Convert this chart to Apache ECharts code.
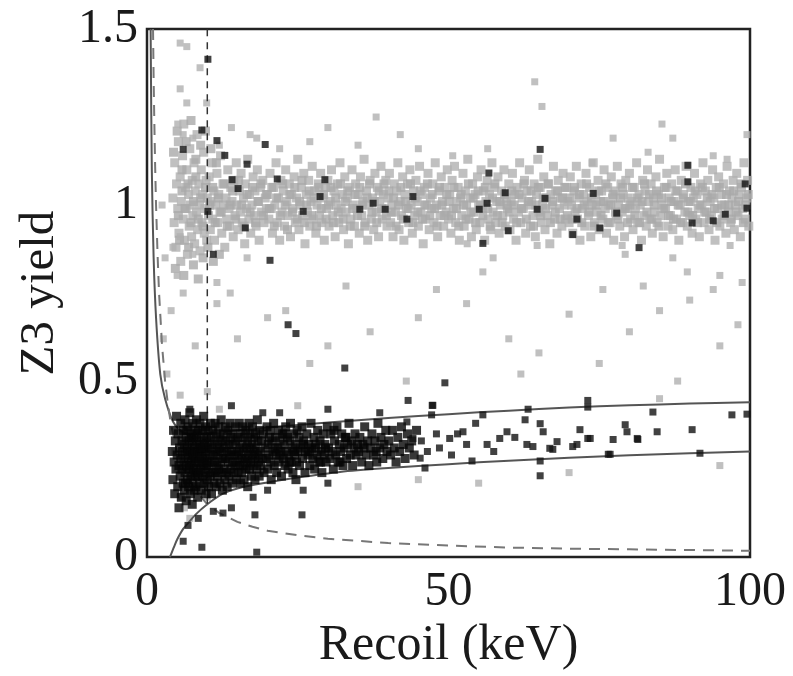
<!DOCTYPE html>
<html><head><meta charset="utf-8">
<script src="https://cdn.jsdelivr.net/npm/echarts@6/dist/echarts.min.js"></script>
<style>html,body{margin:0;padding:0;background:#fff}#c{width:793px;height:676px}</style>
</head><body><div id="c"></div>
<script>
// Axis ticks
const xTicks = [0, 50, 100];
const yTicks = [0, 0.5, 1, 1.5];

// Gray points: electron-recoil band (flat list of x,y pairs)
const erBand = [
4.3,1.02,4.5,0.95,4.6,1.12,4.8,0.88,4.9,1.06,5.1,0.99,5.2,1.18,5.3,0.92,5.5,1.08,5.6,0.84,5.7,1.01,5.9,1.14,6.0,0.96,6.1,1.23,6.2,0.9,6.4,1.05,6.5,0.99,6.6,1.1,6.7,0.86,6.9,1.03,7.0,0.94,7.1,1.16,7.2,1.0,7.4,0.91,7.5,1.07,7.6,0.97,7.8,1.12,7.9,0.89,8.0,1.04,8.2,0.98,8.3,1.2,8.4,0.93,8.6,1.06,8.7,1.0,8.8,0.87,9.0,1.1,9.1,0.95,9.2,1.03,9.4,1.15,9.5,0.92,9.6,0.99,9.8,1.07,9.9,0.9,10.0,1.02,
10.2,0.97,10.3,1.08,10.5,0.93,10.6,1.01,10.8,1.12,10.9,0.96,11.1,1.04,11.2,0.9,11.4,1.0,11.6,1.09,11.7,0.95,11.9,1.03,12.1,0.98,12.2,1.14,12.4,0.92,12.6,1.06,12.7,1.0,12.9,0.88,13.1,1.02,13.2,0.96,13.4,1.1,13.6,0.99,13.7,0.94,13.9,1.05,14.1,1.01,14.3,0.91,14.4,1.07,14.6,0.97,14.8,1.12,14.9,1.0,15.1,0.93,15.3,1.04,15.5,0.98,15.6,1.09,15.8,0.95,16.0,1.02,16.2,0.89,16.3,1.06,16.5,0.99,16.7,1.13,16.9,0.96,17.0,1.03,17.2,0.92,17.4,1.0,17.6,1.08,17.8,0.97,17.9,1.04,18.1,0.94,18.3,1.1,18.5,1.01,18.6,0.9,18.8,1.05,19.0,0.98,19.2,1.07,19.4,0.95,19.6,1.02,19.8,0.99,
20.0,1.03,20.2,0.96,20.4,1.09,20.6,0.99,20.8,0.92,21.0,1.05,21.2,1.0,21.4,1.12,21.6,0.95,21.8,1.02,22.0,0.9,22.2,1.07,22.4,0.98,22.6,1.04,22.8,0.94,23.0,1.1,23.2,1.01,23.4,0.97,23.6,1.06,23.8,0.91,24.0,1.03,24.2,0.99,24.4,1.08,24.6,0.95,24.8,1.02,25.0,1.13,25.2,0.93,25.4,1.0,25.6,1.05,25.8,0.97,26.0,1.09,26.2,0.89,26.4,1.03,26.6,0.98,26.8,1.07,27.0,0.94,27.2,1.01,27.4,1.11,27.6,0.96,27.8,1.04,28.0,0.92,28.2,1.0,28.4,1.06,28.6,0.97,28.8,1.09,29.0,0.95,29.2,1.02,29.4,0.9,29.6,1.05,29.8,0.99,
30.0,1.07,30.2,0.94,30.4,1.01,30.6,1.1,30.8,0.97,31.0,1.04,31.2,0.91,31.4,1.0,31.6,1.06,31.8,0.95,32.0,1.12,32.2,0.99,32.4,1.03,32.6,0.93,32.8,1.08,33.0,0.98,33.2,1.02,33.4,0.89,33.6,1.05,33.8,0.96,34.0,1.1,34.2,1.0,34.4,0.94,34.6,1.06,34.8,0.99,35.0,1.03,35.2,0.92,35.4,1.08,35.6,0.97,35.8,1.01,36.0,1.13,36.2,0.95,36.4,1.04,36.6,0.9,36.8,1.0,37.0,1.07,37.2,0.96,37.4,1.02,37.6,0.93,37.8,1.09,38.0,0.98,38.2,1.05,38.4,0.91,38.6,1.01,38.8,1.11,39.0,0.96,39.2,1.03,39.4,0.99,39.6,1.07,39.8,0.94,
40.0,1.02,40.2,1.09,40.4,0.95,40.6,1.0,40.8,0.91,41.0,1.06,41.2,0.98,41.4,1.04,41.6,1.12,41.8,0.93,42.0,1.01,42.2,0.97,42.4,1.08,42.6,0.9,42.8,1.03,43.0,0.99,43.2,1.06,43.4,0.95,43.6,1.1,43.8,1.0,44.0,0.92,44.2,1.04,44.4,0.97,44.6,1.07,44.8,1.01,45.0,0.94,45.2,1.11,45.4,0.98,45.6,1.03,45.8,0.89,46.0,1.05,46.2,0.96,46.4,1.0,46.6,1.09,46.8,0.93,47.0,1.02,47.2,0.99,47.4,1.06,47.6,0.95,47.8,1.12,48.0,1.0,48.2,0.91,48.4,1.04,48.6,0.97,48.8,1.08,49.0,1.01,49.2,0.94,49.4,1.05,49.6,0.98,49.8,1.1,
50.0,0.96,50.2,1.03,50.4,0.92,50.6,1.07,50.8,0.99,51.0,1.11,51.2,0.95,51.4,1.01,51.6,1.05,51.8,0.9,52.0,1.02,52.2,0.97,52.4,1.09,52.6,0.94,52.8,1.04,53.0,1.0,53.2,1.13,53.4,0.96,53.6,1.02,53.8,0.91,54.0,1.06,54.2,0.98,54.4,1.03,54.6,0.93,54.8,1.08,55.0,1.0,55.2,0.95,55.4,1.1,55.6,0.99,55.8,1.04,56.0,0.9,56.2,1.01,56.4,1.07,56.6,0.96,56.8,1.03,57.0,0.93,57.2,1.12,57.4,0.98,57.6,1.05,57.8,0.95,58.0,1.01,58.2,1.08,58.4,0.92,58.6,1.0,58.8,1.04,59.0,0.97,59.2,1.1,59.4,0.94,59.6,1.02,59.8,0.99,
60.0,1.06,60.2,0.93,60.4,1.01,60.6,1.09,60.8,0.96,61.0,1.03,61.2,0.9,61.4,1.05,61.6,0.98,61.8,1.12,62.0,0.95,62.2,1.02,62.4,0.99,62.6,1.07,62.8,0.92,63.0,1.04,63.2,1.0,63.4,1.1,63.6,0.94,63.8,1.01,64.0,0.97,64.2,1.06,64.4,0.91,64.6,1.03,64.8,1.13,65.0,0.98,65.2,1.05,65.4,0.95,65.6,1.0,65.8,1.08,66.0,0.93,66.2,1.02,66.4,0.97,66.6,1.06,66.8,0.89,67.0,1.03,67.2,1.0,67.4,1.11,67.6,0.96,67.8,1.04,68.0,0.92,68.2,1.07,68.4,0.99,68.6,1.02,68.8,0.94,69.0,1.09,69.2,1.0,69.4,0.96,69.6,1.05,69.8,1.01,
70.0,0.95,70.2,1.08,70.4,1.0,70.6,0.92,70.8,1.04,71.0,0.98,71.2,1.11,71.4,0.96,71.6,1.02,71.8,0.9,72.0,1.06,72.2,0.99,72.4,1.03,72.6,0.94,72.8,1.09,73.0,1.01,73.2,0.97,73.4,1.05,73.6,0.91,73.8,1.0,74.0,1.12,74.2,0.95,74.4,1.03,74.6,0.98,74.8,1.07,75.0,0.93,75.2,1.01,75.4,1.04,75.6,0.96,75.8,1.1,76.0,0.99,76.2,0.92,76.4,1.05,76.6,1.0,76.8,0.95,77.0,1.08,77.2,1.02,77.4,0.9,77.6,1.04,77.8,0.97,78.0,1.11,78.2,1.0,78.4,0.94,78.6,1.06,78.8,0.98,79.0,1.03,79.2,0.91,79.4,1.07,79.6,0.99,79.8,1.02,
80.0,1.09,80.2,0.96,80.4,1.01,80.6,0.93,80.8,1.05,81.0,0.99,81.2,1.12,81.4,0.95,81.6,1.03,81.8,1.0,82.0,0.9,82.2,1.07,82.4,0.97,82.6,1.04,82.8,0.94,83.0,1.1,83.2,1.01,83.4,0.96,83.6,1.06,83.8,0.92,84.0,1.02,84.2,0.98,84.4,1.08,84.6,0.95,84.8,1.03,85.0,1.13,85.2,0.97,85.4,1.0,85.6,0.91,85.8,1.05,86.0,0.99,86.2,1.09,86.4,0.94,86.6,1.02,86.8,0.97,87.0,1.06,87.2,0.93,87.4,1.01,87.6,1.1,87.8,0.96,88.0,1.04,88.2,0.9,88.4,1.0,88.6,1.07,88.8,0.95,89.0,1.03,89.2,0.98,89.4,1.11,89.6,0.94,89.8,1.01,
90.0,0.97,90.2,1.05,90.4,0.92,90.6,1.02,90.8,1.09,91.0,0.96,91.2,1.03,91.4,0.99,91.6,0.91,91.8,1.06,92.0,1.0,92.2,1.12,92.4,0.95,92.6,1.04,92.8,0.98,93.0,1.07,93.2,0.93,93.4,1.01,93.6,0.97,93.8,1.1,94.0,1.02,94.2,0.9,94.4,1.05,94.6,0.99,94.8,1.08,95.0,0.94,95.2,1.03,95.4,0.96,95.6,1.06,95.8,1.0,96.0,0.92,96.2,1.11,96.4,0.98,96.6,1.04,96.8,0.95,97.0,1.02,97.2,1.07,97.4,0.93,97.6,1.0,97.8,1.09,98.0,0.97,98.2,1.03,98.4,0.91,98.6,1.05,98.8,0.99,99.0,1.12,99.2,0.96,99.4,1.02,99.6,1.07,99.8,0.94
];

// Gray points: densest middle of the electron-recoil band
const erCore = [
4.4,1.15,4.7,0.82,5.0,1.21,5.4,0.9,5.8,1.1,6.1,0.8,6.5,1.18,6.9,0.88,7.3,1.24,7.7,0.83,8.1,1.13,8.5,0.79,8.9,1.17,9.3,0.85,9.7,1.21,10.1,0.88,10.6,1.16,11.0,0.84,11.5,1.12,12.0,0.86,
5.2,0.97,5.8,1.04,6.3,0.99,6.8,1.06,7.3,0.95,7.7,1.01,8.1,1.08,8.5,0.96,8.9,1.02,9.3,0.94,9.7,1.05,
10.4,1.0,10.9,1.05,11.3,0.95,11.8,1.02,12.3,0.98,12.8,1.06,13.3,0.94,13.8,1.0,14.2,1.04,14.7,0.96,15.2,1.07,15.7,1.0,16.1,0.94,16.6,1.03,17.1,0.98,17.5,1.05,18.0,0.95,18.4,1.01,18.9,1.06,19.3,0.97,19.8,1.03,
20.3,0.99,20.7,1.05,21.1,0.94,21.5,1.02,22.1,0.97,22.5,1.06,22.9,1.0,23.3,0.93,23.7,1.03,24.1,0.98,24.5,1.05,24.9,0.96,25.3,1.01,25.7,1.07,26.1,0.95,26.5,1.0,26.9,1.04,27.3,0.97,27.7,1.02,28.1,0.94,28.5,1.05,28.9,0.99,29.3,1.03,29.7,0.96,
30.1,1.0,30.5,1.05,30.9,0.95,31.3,1.02,31.7,0.98,32.1,1.06,32.5,0.96,32.9,1.01,33.3,1.04,33.7,0.94,34.1,0.99,34.5,1.03,34.9,0.97,35.3,1.05,35.7,1.0,36.1,0.94,36.5,1.02,36.9,1.06,37.3,0.98,37.7,1.01,38.1,0.95,38.5,1.04,38.9,0.99,39.3,1.06,39.7,0.97,
40.1,1.04,40.5,0.98,40.9,1.02,41.3,0.94,41.7,1.0,42.1,1.05,42.5,0.96,42.9,1.01,43.3,0.99,43.7,1.06,44.1,0.95,44.5,1.02,44.9,0.98,45.3,1.04,45.7,0.96,46.1,1.0,46.5,1.06,46.9,0.97,47.3,1.03,47.7,0.99,48.1,0.94,48.5,1.05,48.9,1.0,49.3,0.97,49.7,1.03,
50.1,1.01,50.5,0.97,50.9,1.05,51.3,0.99,51.7,0.94,52.1,1.03,52.5,1.0,52.9,0.96,53.3,1.06,53.7,0.98,54.1,1.02,54.5,0.95,54.9,1.04,55.3,1.0,55.7,0.97,56.1,1.05,56.5,0.99,56.9,0.94,57.3,1.02,57.7,1.06,58.1,0.97,58.5,1.01,58.9,0.95,59.3,1.03,59.7,1.0,
60.1,0.98,60.5,1.04,60.9,1.0,61.3,0.95,61.7,1.03,62.1,0.99,62.5,1.06,62.9,0.96,63.3,1.01,63.7,1.04,64.1,0.94,64.5,1.0,64.9,1.05,65.3,0.97,65.7,1.02,66.1,0.99,66.5,1.06,66.9,0.95,67.3,1.01,67.7,0.98,68.1,1.04,68.5,0.96,68.9,1.02,69.3,1.05,69.7,0.97,
70.1,1.02,70.5,0.96,70.9,1.05,71.3,0.99,71.7,1.03,72.1,0.95,72.5,1.0,72.9,1.06,73.3,0.98,73.7,1.02,74.1,0.94,74.5,1.0,74.9,1.04,75.3,0.97,75.7,1.01,76.1,1.06,76.5,0.95,76.9,1.0,77.3,1.03,77.7,0.98,78.1,0.96,78.5,1.02,78.9,1.05,79.3,0.99,79.7,0.95,
80.1,1.0,80.5,1.05,80.9,0.97,81.3,1.02,81.7,0.95,82.1,1.01,82.5,1.06,82.9,0.98,83.3,1.03,83.7,0.96,84.1,1.0,84.5,1.04,84.9,0.94,85.3,1.02,85.7,0.99,86.1,1.05,86.5,0.97,86.9,1.01,87.3,0.96,87.7,1.04,88.1,1.0,88.5,0.95,88.9,1.02,89.3,1.06,89.7,0.98,
90.1,1.01,90.5,0.97,90.9,1.04,91.3,0.95,91.7,1.0,92.1,1.05,92.5,0.98,92.9,1.02,93.3,0.96,93.7,1.03,94.1,0.99,94.5,0.95,94.9,1.05,95.3,1.0,95.7,0.97,96.1,1.03,96.5,1.0,96.9,0.96,97.3,1.04,97.7,0.98,98.1,1.01,98.5,1.06,98.9,0.95,99.3,1.0,99.7,1.03
];

// Gray points outside the main band
const erScatter = [
5.5,1.46,6.6,1.45,8.8,1.39,5.5,1.33,9.9,1.29,6.6,1.29,5.1,1.23,6.0,1.2,7.6,1.19,17.1,1.2,18.2,1.19,64.3,1.35,65.5,1.28,85.4,1.23,77.3,1.19,87.2,1.19,99.5,1.2,56.5,1.16,50.7,1.14,83.1,1.15,73.8,1.12,96.2,1.13,93.9,1.14,27,1.18,30,1.22,35,1.17,42,1.2,45,1.16,12,1.17,14,1.22,22,1.16,38,1.25,
55.7,0.81,78.8,0.885,79.3,0.86,87.2,0.85,89.6,0.81,95,0.8,96.7,0.885,98.7,0.78,82.3,0.77,93.9,0.76,75.6,0.76,53.1,0.89,64.7,0.885,57.4,0.85,5.5,0.91,4.3,0.88,7.6,0.86,5.0,0.8,6.0,0.75,11.6,0.78,13.8,0.75,16.6,0.85,11.6,0.72,2.7,0.62,3.3,0.52,
20,0.68,23,0.7,30,0.6,37,0.64,43,0.5,48,0.76,53,0.72,60,0.62,65,0.58,70,0.69,75,0.55,80,0.64,85,0.7,90,0.73,95,0.6,98,0.66,62,0.52,88,0.5,33,0.77,27,0.55,45,0.68,15,0.62,8,0.6,4,0.7,3,0.85,2.5,1.0,
7.1,0.23,5.5,0.17,7.1,0.11,8.3,0.19,10,0.17,5.5,0.46,10,0.47,4.6,0.3,5.0,0.25,6.2,0.14,12,0.42,25,0.43,35,0.2,45,0.22,55,0.21,70,0.24,85,0.45,95,0.26
];

// Black points: nuclear-recoil band, dense part
const nrCore = [
4.2,0.3,4.3,0.22,4.4,0.36,4.5,0.27,4.6,0.18,4.7,0.33,4.8,0.25,4.9,0.4,5.0,0.29,5.1,0.2,5.2,0.35,5.3,0.14,5.3,0.26,5.4,0.31,5.5,0.23,5.6,0.38,5.6,0.28,5.7,0.17,5.8,0.33,5.8,0.25,5.9,0.3,6.0,0.21,6.0,0.36,6.1,0.27,6.2,0.32,
6.2,0.19,6.3,0.24,6.3,0.39,6.4,0.29,6.5,0.34,6.5,0.16,6.6,0.26,6.7,0.31,6.7,0.22,6.8,0.37,6.9,0.28,6.9,0.2,7.0,0.33,7.0,0.25,7.1,0.41,7.2,0.3,7.2,0.18,7.3,0.35,7.3,0.23,7.4,0.27,7.5,0.32,7.5,0.15,7.6,0.38,7.6,0.21,7.7,0.29,7.7,0.25,7.8,0.34,7.8,0.19,7.9,0.31,7.9,0.27,8.0,0.23,8.0,0.36,6.4,0.21,6.6,0.36,6.8,0.3,7.1,0.26,7.4,0.34,7.6,0.29,7.8,0.24,8.0,0.3,
8.1,0.28,8.1,0.2,8.2,0.33,8.2,0.39,8.3,0.25,8.4,0.3,8.4,0.17,8.5,0.36,8.5,0.23,8.6,0.27,8.7,0.32,8.7,0.21,8.8,0.29,8.8,0.38,8.9,0.25,9.0,0.34,9.0,0.19,9.1,0.3,9.1,0.27,9.2,0.23,9.3,0.36,9.3,0.31,9.4,0.26,9.4,0.4,9.5,0.21,9.5,0.33,9.6,0.28,9.7,0.24,9.7,0.37,9.8,0.3,9.8,0.18,9.9,0.34,9.9,0.26,10.0,0.22,10.0,0.31,8.3,0.35,8.6,0.24,8.9,0.31,9.2,0.28,9.6,0.32,
10.1,0.27,10.1,0.36,10.2,0.2,10.3,0.32,10.3,0.25,10.4,0.29,10.5,0.38,10.5,0.23,10.6,0.34,10.7,0.27,10.7,0.18,10.8,0.31,10.9,0.24,10.9,0.36,11.0,0.29,11.1,0.21,11.1,0.33,11.2,0.27,11.3,0.38,11.3,0.24,11.4,0.3,11.5,0.2,11.5,0.35,11.6,0.26,11.7,0.32,11.7,0.23,11.8,0.29,11.9,0.37,11.9,0.25,12.0,0.31,12.1,0.21,12.1,0.34,12.2,0.27,12.3,0.3,12.3,0.39,12.4,0.24,12.5,0.33,12.5,0.19,12.6,0.28,12.7,0.35,12.8,0.25,12.8,0.31,12.9,0.22,13.0,0.37,13.0,0.28,13.1,0.33,13.2,0.24,13.3,0.3,13.3,0.2,13.4,0.36,13.5,0.27,13.6,0.32,13.6,0.23,13.7,0.29,13.8,0.38,13.9,0.25,13.9,0.34,14.0,0.3,14.1,0.21,14.2,0.27,14.2,0.35,14.3,0.32,14.4,0.24,14.5,0.29,14.6,0.37,14.6,0.26,14.7,0.33,14.8,0.22,14.9,0.3,15.0,0.27,
15.1,0.34,15.1,0.24,15.2,0.29,15.3,0.38,15.4,0.26,15.4,0.31,15.5,0.21,15.6,0.35,15.7,0.28,15.7,0.24,15.8,0.32,15.9,0.37,16.0,0.26,16.0,0.3,16.1,0.22,16.2,0.34,16.3,0.28,16.4,0.25,16.4,0.36,16.5,0.31,16.6,0.27,16.7,0.2,16.7,0.33,16.8,0.29,16.9,0.38,17.0,0.25,17.1,0.31,17.1,0.35,17.2,0.27,17.3,0.23,17.4,0.32,17.5,0.29,17.5,0.37,17.6,0.26,17.7,0.34,17.8,0.3,17.9,0.22,17.9,0.28,18.0,0.35,18.1,0.31,18.2,0.25,18.3,0.39,18.4,0.29,18.4,0.33,18.5,0.27,18.6,0.23,18.7,0.36,18.8,0.3,18.9,0.26,19.0,0.33,19.1,0.28,19.3,0.35,19.4,0.24,19.6,0.31,19.8,0.28,19.9,0.37,
20.0,0.25,20.1,0.32,20.2,0.29,20.4,0.36,20.5,0.27,20.6,0.22,20.7,0.33,20.9,0.3,21.0,0.38,21.1,0.26,21.3,0.34,21.4,0.29,21.5,0.24,21.7,0.31,21.8,0.36,21.9,0.27,22.1,0.33,22.2,0.3,22.3,0.23,22.5,0.35,22.6,0.28,22.7,0.32,22.9,0.26,23.0,0.37,23.1,0.3,23.3,0.34,23.4,0.25,23.5,0.29,23.7,0.33,23.8,0.38,23.9,0.27,24.1,0.31,24.2,0.24,24.3,0.35,24.5,0.29,24.6,0.32,24.8,0.27,24.9,0.36,20.3,0.34,21.2,0.31,22.0,0.29,22.8,0.35,23.6,0.27,24.4,0.3,24.7,0.22,
25.0,0.3,25.2,0.34,25.3,0.26,25.5,0.31,25.7,0.37,25.8,0.28,26.0,0.33,26.2,0.24,26.3,0.3,26.5,0.35,26.7,0.29,26.8,0.32,27.0,0.26,27.2,0.38,27.3,0.31,27.5,0.28,27.7,0.34,27.8,0.25,28.0,0.32,28.2,0.29,28.3,0.36,28.5,0.27,28.7,0.33,28.9,0.3,29.0,0.24,29.2,0.35,29.4,0.29,29.5,0.32,29.7,0.27,29.9,0.37,25.9,0.32,26.9,0.3,27.9,0.31,28.8,0.27,29.6,0.31,
30.1,0.31,30.3,0.28,30.5,0.35,30.7,0.3,30.9,0.25,31.1,0.33,31.3,0.29,31.5,0.37,31.7,0.27,31.9,0.32,32.1,0.3,32.3,0.35,32.5,0.26,32.7,0.31,32.9,0.34,33.1,0.28,33.3,0.32,33.5,0.38,33.7,0.29,33.9,0.33,34.1,0.26,34.3,0.31,34.5,0.35,34.7,0.29,34.9,0.32,31.0,0.36,32.0,0.27,33.0,0.34,
35.1,0.3,35.3,0.34,35.6,0.27,35.8,0.32,36.1,0.37,36.3,0.29,36.6,0.33,36.8,0.26,37.1,0.31,37.3,0.35,37.6,0.29,37.8,0.33,38.1,0.27,38.3,0.38,38.6,0.31,38.8,0.34,39.1,0.28,39.3,0.32,39.6,0.36,39.8,0.3,36.0,0.31,38.0,0.3,
40.1,0.33,40.4,0.29,40.7,0.36,41.0,0.31,41.3,0.27,41.6,0.34,41.9,0.3,42.2,0.37,42.5,0.32,42.8,0.28,43.2,0.35,43.5,0.31,43.9,0.33,44.3,0.29,44.7,0.36
];

// Black points: sparse part of the nuclear-recoil band and outliers
const nrSparse = [
73.1,0.445,73.1,0.426,83.9,0.412,84.6,0.356,79.3,0.376,81.4,0.334,77.3,0.334,76.5,0.292,73.1,0.337,71.8,0.362,90.4,0.362,97.0,0.404,99.5,0.406,91.7,0.295,65.2,0.379,65.7,0.356,62.7,0.39,63.2,0.42,59.7,0.356,58.5,0.337,63.0,0.32,65.2,0.273,65.2,0.231,55.7,0.404,56.4,0.32,53.9,0.273,52.4,0.356,50.2,0.337,47.4,0.431,47.2,0.404,46.1,0.253,43.1,0.384,44.1,0.337,45.3,0.281,68.0,0.328,70.6,0.314,67.3,0.306,79.6,0.356,73.5,0.337,81.3,0.337,76.8,0.292,66.8,0.309,71.3,0.32,64.0,0.314,
45.5,0.33,46.5,0.3,48,0.35,48.5,0.31,50.5,0.29,51.5,0.35,53,0.32,54.5,0.38,57.5,0.3,61,0.34,
7.1,0.42,19.2,0.41,22,0.41,38.6,0.41,14,0.43,30,0.42,17.6,0.17,25.9,0.19,30,0.21,14,0.14,20,0.19,11,0.13,8.5,0.11,6.8,0.09,
23.4,0.66,24.7,0.635,32.8,0.537,49.4,0.495,12.6,0.125,17.9,0.12,25.7,0.12,6.0,0.045,9.1,0.028,18.2,0.014,43.3,0.445,47.3,0.431
];

// Black points lying in the electron-recoil band
const nrInEr = [
10.1,1.414,6.0,1.158,9.1,1.213,11.6,1.183,12.9,1.141,16.6,1.116,19.6,1.172,14.1,1.072,15.1,1.047,21.6,1.074,10.1,0.982,16.3,0.935,20.4,0.843,25.9,0.982,28.7,1.024,29.5,1.072,35.3,0.988,37.5,1.005,39.5,0.988,43.1,0.96,44.1,1.024,11,0.86,
65.2,1.158,56.7,1.091,59.4,1.035,56.4,1.005,55.1,0.988,66.0,1.019,64.7,0.988,59.9,0.927,55.7,0.891,71.3,0.96,70.6,0.916,74.0,1.033,75.1,0.935,77.9,0.977,81.6,0.879,89.7,1.113,89.7,1.066,90.4,0.949,93.9,0.955,95.9,0.974,99.2,1.06,99.5,0.991
];

// Curves
const nrUpper = [0.6,1.5, 0.8,1.1, 1.1,0.85, 1.5,0.68, 2.2,0.52, 3,0.45, 4.3,0.385, 5.5,0.36, 7,0.35, 10,0.352, 15,0.36, 20,0.368, 30,0.382, 40,0.395, 50,0.406, 60,0.416, 70,0.425, 80,0.431, 90,0.436, 100,0.44];
const nrLower = [3.8,0, 4.5,0.03, 5,0.05, 6,0.08, 7,0.1, 8,0.12, 10,0.15, 12.6,0.18, 15,0.195, 20,0.212, 25,0.226, 32,0.242, 40,0.253, 50,0.264, 60,0.274, 70,0.282, 80,0.289, 90,0.295, 100,0.3];
const ionThreshold = [1,1.5, 1.1,1.36, 1.2,1.25, 1.35,1.11, 1.5,1.0, 1.75,0.86, 2,0.75, 2.5,0.6, 3,0.5, 3.5,0.43, 4,0.375, 5,0.3, 6,0.25, 8,0.19, 10,0.15, 12,0.125, 15,0.1, 17.5,0.086, 20,0.075, 25,0.062, 30,0.052, 40,0.04, 50,0.033, 60,0.027, 70,0.024, 80,0.022, 90,0.02, 100,0.018];
const recoilThreshold = [10,0.15, 10,1.5];

function pairs(a){const o=[];for(let i=0;i<a.length;i+=2)o.push([a[i],a[i+1]]);return o;}

const serif = '"Liberation Serif","DejaVu Serif",serif';
const chart = echarts.init(document.getElementById('c'), null, {renderer:'canvas'});
chart.setOption({
  animation:false,
  backgroundColor:'#fff',
  grid:{left:147,right:43,top:29,bottom:108,show:true,borderColor:'#222',borderWidth:2.5,backgroundColor:'transparent'},
  xAxis:{type:'value',min:xTicks[0],max:xTicks[xTicks.length-1],interval:xTicks[1]-xTicks[0],
    axisLine:{show:false},axisTick:{show:false},splitLine:{show:false},
    axisLabel:{fontFamily:serif,fontSize:48,color:'#1a1a1a',margin:11},
    name:'Recoil (keV)',nameLocation:'middle',nameGap:50,
    nameTextStyle:{fontFamily:serif,fontSize:50,color:'#1a1a1a'}},
  yAxis:{type:'value',min:yTicks[0],max:yTicks[yTicks.length-1],interval:yTicks[1]-yTicks[0],
    axisLine:{show:false},axisTick:{show:false},splitLine:{show:false},
    axisLabel:{fontFamily:serif,fontSize:48,color:'#1a1a1a',margin:9},
    name:'Z3 yield',nameLocation:'middle',nameGap:82,
    nameTextStyle:{fontFamily:serif,fontSize:49,color:'#1a1a1a'}},
  series:[
    {type:'scatter',z:2,symbol:'rect',symbolSize:9,data:pairs(erBand),itemStyle:{color:'#b0b0b0'},silent:true},
    {type:'scatter',z:2,symbol:'rect',symbolSize:9,data:pairs(erCore),itemStyle:{color:'#a9a9a9'},silent:true},
    {type:'scatter',z:2,symbol:'rect',symbolSize:7,data:pairs(erScatter),itemStyle:{color:'#b0b0b0'},silent:true},
    {type:'line',z:3,showSymbol:false,smooth:0.3,data:pairs(nrUpper),lineStyle:{color:'#555',width:2}},
    {type:'line',z:3,showSymbol:false,smooth:0.3,data:pairs(nrLower),lineStyle:{color:'#555',width:2}},
    {type:'line',z:3,showSymbol:false,data:pairs(ionThreshold),lineStyle:{color:'#777',width:2,type:[11,8]}},
    {type:'line',z:3,showSymbol:false,data:pairs(recoilThreshold),lineStyle:{color:'#333',width:1.5,type:[7,6]}},
    {type:'scatter',z:4,symbol:'rect',symbolSize:9,data:pairs(nrCore),itemStyle:{color:'#050505'},silent:true},
    {type:'scatter',z:4,symbol:'rect',symbolSize:7,data:pairs(nrSparse),itemStyle:{color:'#111'},silent:true},
    {type:'scatter',z:4,symbol:'rect',symbolSize:7,data:pairs(nrInEr),itemStyle:{color:'#111'},silent:true}
  ]
});
</script></body></html>
